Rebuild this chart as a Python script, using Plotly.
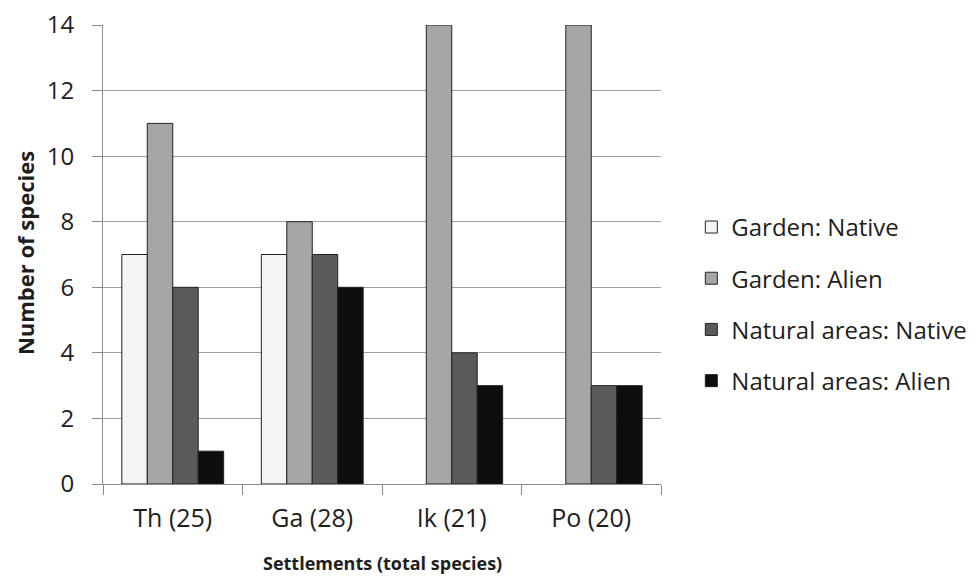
import plotly.graph_objects as go

categories = ["Th (25)", "Ga (28)", "Ik (21)", "Po (20)"]
garden_native = [7, 7, 0, 0]
garden_alien = [11, 8, 14, 14]
natural_native = [6, 7, 4, 3]
natural_alien = [1, 6, 3, 3]
series_names = ["Garden: Native", "Garden: Alien", "Natural areas: Native", "Natural areas: Alien"]
y_ticks = [0, 2, 4, 6, 8, 10, 12, 14]
x_title = "Settlements (total species)"
y_title = "Number of species"

colors = ["#f3f4f6", "#a6a6a6", "#595b5a", "#0d0d0d"]
FONT = "'Open Sans', Lato, sans-serif"
TXT = "#1e1e1e"

fig = go.Figure()
for i, (name, vals) in enumerate(zip(series_names, [garden_native, garden_alien, natural_native, natural_alien])):
    fig.add_trace(go.Bar(
        x=categories, y=vals, name=name, legendgroup=f"g{i}",
        marker=dict(color=colors[i],
                    line=dict(color="#222222", width=[0 if v == 0 else 1 for v in vals])),
    ))

fig.update_layout(
    width=972, height=568,
    margin=dict(l=95, r=319, t=17, b=92, autoexpand=False),
    paper_bgcolor="white", plot_bgcolor="white",
    barmode="group", bargap=0.27, bargroupgap=0,
    font=dict(family=FONT, size=25, color=TXT),
    showlegend=True,
    legend=dict(
        xref="container", yref="container",
        x=0.703, xanchor="left", y=0.479, yanchor="middle",
        traceorder="grouped", tracegroupgap=17,
        font=dict(family=FONT, size=24, color=TXT),
        itemwidth=30,
    ),
    xaxis=dict(
        showline=True, linecolor="#8c8c8c", linewidth=1,
        ticks="outside", ticklen=10, tickcolor="#8c8c8c", tickson="boundaries",
        showgrid=False, ticklabelstandoff=12, automargin=False,
        tickfont=dict(size=25),
    ),
    yaxis=dict(
        range=[0, 14], tickvals=y_ticks,
        showline=True, linecolor="#8c8c8c", linewidth=1,
        ticks="outside", ticklen=10, tickcolor="#8c8c8c",
        showgrid=True, gridcolor="#a0a0a0", gridwidth=1,
        zeroline=False, ticklabelstandoff=13, automargin=False,
        ticklabeloverflow="allow",
        tickfont=dict(size=24),
    ),
    annotations=[
        dict(text=f"<b>{x_title}</b>", xref="paper", yref="paper", x=0.5, y=-0.172,
             xanchor="center", yanchor="middle", showarrow=False,
             font=dict(family=FONT, size=18, color=TXT)),
        dict(text=f"<b>{y_title}</b>", xref="paper", yref="paper", x=-0.1398, y=0.503,
             xanchor="center", yanchor="middle", showarrow=False, textangle=-90,
             font=dict(family=FONT, size=22, color=TXT)),
    ],
)

fig.write_html("out.html")
